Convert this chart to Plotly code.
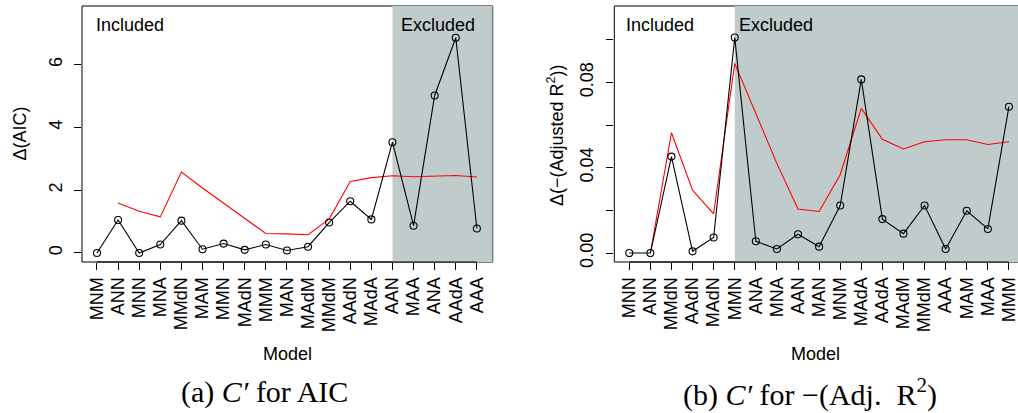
import plotly.graph_objects as go

# ---------------- data ----------------
models_a = ["MNM", "ANN", "MNN", "MNA", "MMdN", "MAM", "MMN", "MAdN", "MMM", "MAN",
            "MAdM", "MMdM", "AAdN", "MAdA", "AAN", "MAA", "ANA", "AAdA", "AAA"]
delta_aic = [0.00, 1.05, 0.00, 0.27, 1.03, 0.12, 0.30, 0.10, 0.27, 0.08,
             0.20, 0.97, 1.65, 1.07, 3.53, 0.87, 5.02, 6.86, 0.78]
cprime_aic = [None, 1.59, 1.33, 1.15, 2.58, 2.07, 1.58, 1.10, 0.62, 0.61,
              0.58, 1.08, 2.28, 2.40, 2.46, 2.43, 2.46, 2.47, 2.42]
excluded_from_a = "AAN"

models_b = ["MNN", "ANN", "MMdN", "AAdN", "MAdN", "MMN", "ANA", "MNA", "AAN", "MAN",
            "MNM", "MAdA", "AAdA", "MAdM", "MMdM", "AAA", "MAM", "MAA", "MMM"]
delta_r2 = [0.0000, 0.0000, 0.0452, 0.0008, 0.0073, 0.1010, 0.0055, 0.0019, 0.0088, 0.0030,
            0.0223, 0.0814, 0.0159, 0.0091, 0.0223, 0.0019, 0.0198, 0.0113, 0.0686]
cprime_r2 = [None, 0.0000, 0.0564, 0.0295, 0.0184, 0.0889, 0.0656, 0.0419, 0.0206, 0.0195,
             0.0367, 0.0678, 0.0533, 0.0488, 0.0522, 0.0531, 0.0531, 0.0509, 0.0522]
excluded_from_b = "MMN"

yticks_a = [0, 2, 4, 6]
yticklabels_a = ["0", "2", "4", "6"]
yticks_b = [0, 0.04, 0.08]
yticklabels_b = ["0.00", "0.04", "0.08"]
yminor_b = [0.02, 0.06, 0.10]

# ---------------- layout constants ----------------
W, H = 1018, 413
FONT = "Liberation Sans, Arial, sans-serif"
SERIF = "Liberation Serif, Times New Roman, serif"
GRAY = "rgb(192,204,204)"

def px(x):
    return x / W

def py(y):
    return 1 - y / H

top_px, bot_px = 6, 262
xr_a = [-0.71, 18.75]
xr_b = [-0.71, 18.43]
yr_a = [-0.287, 7.87]
yr_b = [-0.0042, 0.1158]

fig = go.Figure()

panels = [
    dict(models=models_a, d=delta_aic, c=cprime_aic, exc=excluded_from_a, xr=xr_a, yr=yr_a,
         ax="x", ay="y", inc_x=-0.15, exc_dx=0.30),
    dict(models=models_b, d=delta_r2, c=cprime_r2, exc=excluded_from_b, xr=xr_b, yr=yr_b,
         ax="x2", ay="y2", inc_x=-0.24, exc_dx=0.10),
]

shapes = []
annotations = []
for p in panels:
    xs = list(range(len(p["models"])))
    fig.add_trace(go.Scatter(x=xs, y=p["c"], mode="lines", xaxis=p["ax"], yaxis=p["ay"],
                             line=dict(color="red", width=1.1), showlegend=False,
                             connectgaps=False, hoverinfo="skip"))
    fig.add_trace(go.Scatter(x=xs, y=p["d"], mode="lines+markers", xaxis=p["ax"], yaxis=p["ay"],
                             line=dict(color="black", width=1.1),
                             marker=dict(symbol="circle-open", size=7, color="black",
                                         line=dict(width=1.1, color="black")),
                             showlegend=False))
    xref = p["ax"]
    yref = p["ay"]
    exc_i = p["models"].index(p["exc"])
    shapes.append(dict(type="rect", xref=xref + " domain", yref=yref + " domain",
                       x0=0, x1=1, y0=0, y1=1, line=dict(color="black", width=1), layer="below"))
    shapes.append(dict(type="rect", xref=xref, yref=yref + " domain",
                       x0=exc_i, x1=p["xr"][1], y0=0, y1=1, fillcolor=GRAY,
                       line=dict(width=0), layer="below"))
    shapes.append(dict(type="line", xref=xref, yref=yref + " domain",
                       x0=0, x1=len(xs) - 1, y0=0, y1=0,
                       line=dict(color="black", width=1), layer="below"))
    ylab = (bot_px - 25) / (bot_px - top_px)
    annotations.append(dict(text="Included", xref=xref, yref=yref + " domain",
                            x=p["inc_x"], y=ylab, xanchor="left", yanchor="middle", showarrow=False,
                            font=dict(family=FONT, size=18, color="black")))
    annotations.append(dict(text="Excluded", xref=xref, yref=yref + " domain",
                            x=exc_i + p["exc_dx"], y=ylab, xanchor="left", yanchor="middle",
                            showarrow=False, font=dict(family=FONT, size=18, color="black")))

common_x = dict(showgrid=False, zeroline=False, showline=False, ticks="outside", ticklen=7,
                tickcolor="black", tickwidth=1, tickangle=-90, automargin=False,
                ticklabeloverflow="allow",
                tickfont=dict(family=FONT, size=18, color="black"), fixedrange=True)
common_y = dict(showgrid=False, zeroline=False, showline=False, ticks="outside", ticklen=7,
                tickcolor="black", tickwidth=1, tickangle=-90, automargin=False,
                tickfont=dict(family=FONT, size=18, color="black"), fixedrange=True)

ydom = [py(bot_px), py(top_px)]
fig.update_layout(
    width=W, height=H, margin=dict(l=0, r=0, t=0, b=0), autosize=False,
    paper_bgcolor="white", plot_bgcolor="rgba(0,0,0,0)",
    xaxis=dict(domain=[px(82), px(492.7)], range=xr_a, anchor="y",
               tickmode="array", tickvals=list(range(len(models_a))), ticktext=models_a, **common_x),
    yaxis=dict(domain=ydom, range=yr_a, anchor="x", ticklabelstandoff=5,
               tickmode="array", tickvals=yticks_a, ticktext=yticklabels_a, **common_y),
    xaxis2=dict(domain=[px(614.3), 1.0], range=xr_b, anchor="y2",
                tickmode="array", tickvals=list(range(len(models_b))), ticktext=models_b, **common_x),
    yaxis2=dict(domain=ydom, range=yr_b, anchor="x2", ticklabelstandoff=6,
                tickmode="array", tickvals=yticks_b, ticktext=yticklabels_b,
                minor=dict(tickmode="array", tickvals=yminor_b, ticks="outside", ticklen=7,
                           tickcolor="black", tickwidth=1, showgrid=False),
                **common_y),
    shapes=shapes,
)

def ann(text, x, y, size=18, family=FONT, angle=0):
    annotations.append(dict(text=text, xref="paper", yref="paper", x=px(x), y=py(y),
                            xanchor="center", yanchor="middle", showarrow=False, textangle=angle,
                            font=dict(family=family, size=size, color="black")))

ann("Δ(AIC)", 20, 133.5, angle=-90)
ann("Δ(−(Adjusted R<sup>2</sup>))", 555, 135, angle=-90)
ann("Model", 287, 354)
ann("Model", 815, 354)
ann("(a) <i>C′</i> for AIC", 264, 392, size=30, family=SERIF)
ann("(b) <i>C′</i> for −(Adj.\u00a0\u00a0R<sup>2</sup>)", 810, 392, size=30, family=SERIF)

fig.update_layout(annotations=annotations)
fig.write_html("out.html")
